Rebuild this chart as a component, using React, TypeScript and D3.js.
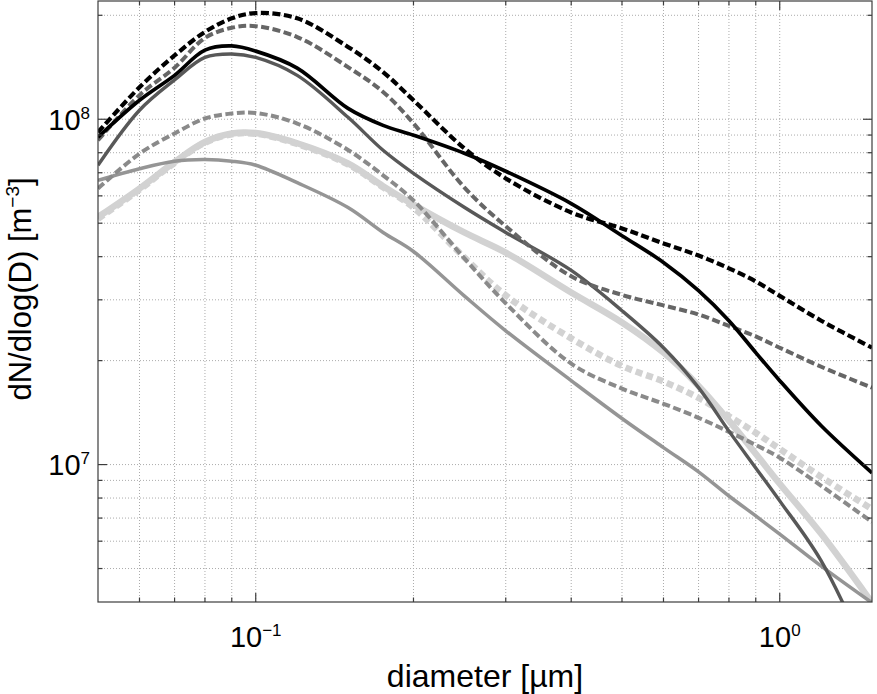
import React from "react";
import * as d3 from "d3";

const W = 877;
const H = 694;

// diameters [µm]
const diameters = [0.05, 0.06, 0.07, 0.08, 0.09, 0.1, 0.12, 0.15, 0.175, 0.2, 0.25, 0.3, 0.4, 0.5, 0.6, 0.7, 0.8, 0.9, 1.0, 1.2, 1.5];

// dN/dlog(D) [m^-3]
const blackDashed = [9.17e7, 1.238e8, 1.53e8, 1.79e8, 1.96e8, 2.03e8, 1.96e8, 1.62e8, 1.37e8, 1.135e8, 8.24e7, 6.74e7, 5.37e7, 4.83e7, 4.37e7, 4.03e7, 3.7e7, 3.39e7, 3.08e7, 2.61e7, 2.18e7];
const darkDashed = [8.69e7, 1.174e8, 1.41e8, 1.72e8, 1.84e8, 1.86e8, 1.73e8, 1.416e8, 1.2e8, 9.73e7, 6.35e7, 4.9e7, 3.51e7, 3.1e7, 2.89e7, 2.72e7, 2.52e7, 2.35e7, 2.18e7, 1.92e7, 1.67e7];
const blackSolid = [8.87e7, 1.135e8, 1.34e8, 1.585e8, 1.63e8, 1.575e8, 1.406e8, 1.075e8, 9.6e7, 8.99e7, 7.97e7, 7.07e7, 5.7e7, 4.6e7, 3.85e7, 3.19e7, 2.61e7, 2.11e7, 1.75e7, 1.295e7, 9.46e6];
const darkSolid = [7.36e7, 1.062e8, 1.3e8, 1.51e8, 1.545e8, 1.51e8, 1.34e8, 1.013e8, 8.13e7, 6.97e7, 5.56e7, 4.7e7, 3.65e7, 2.79e7, 2.18e7, 1.67e7, 1.25e7, 9.78e6, 7.85e6, 5.26e6, 2.6e6];
const mediumDashed = [6.3e7, 7.95e7, 9.1e7, 1.005e8, 1.039e8, 1.043e8, 9.72e7, 8.15e7, 6.88e7, 5.82e7, 3.96e7, 2.93e7, 1.96e7, 1.66e7, 1.5e7, 1.366e7, 1.244e7, 1.14e7, 1.047e7, 8.68e6, 6.82e6];
const mediumSolid = [6.65e7, 7.19e7, 7.56e7, 7.64e7, 7.56e7, 7.36e7, 6.55e7, 5.55e7, 4.7e7, 4.14e7, 3.08e7, 2.44e7, 1.75e7, 1.36e7, 1.12e7, 9.53e6, 8.11e6, 7.1e6, 6.29e6, 5.08e6, 3.98e6];
const lightSolid = [5.21e7, 6.3e7, 7.52e7, 8.59e7, 9.09e7, 9.12e7, 8.52e7, 7.45e7, 6.4e7, 5.66e7, 4.7e7, 4.11e7, 3.15e7, 2.58e7, 2.11e7, 1.69e7, 1.34e7, 1.075e7, 8.8e6, 6.3e6, 3.98e6];
const lightDashed = [5.15e7, 6.25e7, 7.48e7, 8.55e7, 9.05e7, 9.08e7, 8.48e7, 7.4e7, 6.35e7, 5.55e7, 3.98e7, 3.09e7, 2.32e7, 1.93e7, 1.74e7, 1.56e7, 1.38e7, 1.236e7, 1.11e7, 9.21e6, 7.43e6];

// ticks
const xMajor = [0.1, 1];
const xMinor = [0.06, 0.07, 0.08, 0.09, 0.2, 0.3, 0.4, 0.5, 0.6, 0.7, 0.8, 0.9];
const xTickLabels = [
  { v: 0.1, base: "10", sup: "\u22121" },
  { v: 1, base: "10", sup: "0" },
];
const yMajor = [1e7, 1e8];
const yMinor = [5e6, 6e6, 7e6, 8e6, 9e6, 2e7, 3e7, 4e7, 5e7, 6e7, 7e7, 8e7, 9e7, 2e8];
const yTickLabels = [
  { v: 1e7, base: "10", sup: "7" },
  { v: 1e8, base: "10", sup: "8" },
];

const seriesList = [
  { values: lightSolid, color: "#d2d2d2", width: 6.5, dash: null },
  { values: lightDashed, color: "#d2d2d2", width: 6.5, dash: "7,4" },
  { values: mediumSolid, color: "#959595", width: 3.5, dash: null },
  { values: mediumDashed, color: "#8a8a8a", width: 4, dash: "8,3.5" },
  { values: darkSolid, color: "#585858", width: 3.4, dash: null },
  { values: darkDashed, color: "#666666", width: 4, dash: "8,3.5" },
  { values: blackSolid, color: "#000000", width: 3.7, dash: null },
  { values: blackDashed, color: "#000000", width: 4.2, dash: "8,3.5" },
];

const FONT = "'Liberation Sans', Arial, Helvetica, sans-serif";

export default function App() {
  const L = 98, R = 872, T = 1, B = 602;
  const x = d3.scaleLog().domain([0.05, 1.5]).range([L, R]);
  const y = d3.scaleLog().domain([4e6, 2.2e8]).range([B, T]);

  const line = d3
    .line<[number, number]>()
    .x((d) => x(d[0]))
    .y((d) => y(d[1]))
    .curve(d3.curveCatmullRom.alpha(0.5));

  const gridColor = "#ababab";
  const axisColor = "#3c3c3c";
  const majLen = 9;
  const minLen = 4.5;

  return (
    <svg
      width={W}
      height={H}
      viewBox={`0 0 ${W} ${H}`}
      style={{ position: "absolute", left: 0, top: 0, background: "#fff" }}
    >
      <defs>
        <clipPath id="plotclip">
          <rect x={L} y={T} width={R - L} height={B - T} />
        </clipPath>
      </defs>
      <rect x={0} y={0} width={W} height={H} fill="#fff" />

      {/* grid */}
      <g stroke={gridColor} strokeWidth={1} strokeDasharray="1,2">
        {[...xMinor, ...xMajor].map((v) => (
          <line key={"gx" + v} x1={x(v)} x2={x(v)} y1={T} y2={B} />
        ))}
        {[...yMinor, ...yMajor].map((v) => (
          <line key={"gy" + v} x1={L} x2={R} y1={y(v)} y2={y(v)} />
        ))}
      </g>

      {/* series */}
      <g clipPath="url(#plotclip)" fill="none">
        {seriesList.map((s, i) => (
          <path
            key={i}
            d={line(diameters.map((d, j) => [d, s.values[j]] as [number, number])) || ""}
            stroke={s.color}
            strokeWidth={s.width}
            strokeDasharray={s.dash || undefined}
            strokeLinejoin="round"
          />
        ))}
      </g>

      {/* box */}
      <rect x={L} y={T} width={R - L} height={B - T} fill="none" stroke={axisColor} strokeWidth={1.2} />

      {/* ticks */}
      <g stroke={axisColor} strokeWidth={1.2}>
        {xMajor.concat(xMinor).map((v) => {
          const len = xMajor.includes(v) ? majLen : minLen;
          return (
            <g key={"tx" + v}>
              <line x1={x(v)} x2={x(v)} y1={B} y2={B - len} />
              <line x1={x(v)} x2={x(v)} y1={T} y2={T + len} />
            </g>
          );
        })}
        {yMajor.concat(yMinor).map((v) => {
          const len = yMajor.includes(v) ? majLen : minLen;
          return (
            <g key={"ty" + v}>
              <line x1={L} x2={L + len} y1={y(v)} y2={y(v)} />
              <line x1={R} x2={R - len} y1={y(v)} y2={y(v)} />
            </g>
          );
        })}
      </g>

      {/* tick labels */}
      <g fontFamily={FONT} fill="#000">
        {xTickLabels.map((t) => (
          <text key={"xl" + t.v} x={x(t.v)} y={647} textAnchor="middle" fontSize={29}>
            {t.base}
            <tspan fontSize={17} dy={-11}>{t.sup}</tspan>
          </text>
        ))}
        {yTickLabels.map((t) => (
          <text key={"yl" + t.v} x={90} y={y(t.v) + 10.5} textAnchor="end" fontSize={29}>
            {t.base}
            <tspan fontSize={17} dy={-11}>{t.sup}</tspan>
          </text>
        ))}
      </g>

      {/* axis labels */}
      <text x={(L + R) / 2} y={687} textAnchor="middle" fontFamily={FONT} fontSize={32} fill="#000">
        diameter [µm]
      </text>
      <text
        transform="translate(31,289) rotate(-90)"
        textAnchor="middle"
        fontFamily={FONT}
        fontSize={31}
        fill="#000"
      >
        dN/dlog(D) [m
        <tspan fontSize={19} dy={-12}>{"\u22123"}</tspan>
        <tspan dy={12}>]</tspan>
      </text>
    </svg>
  );
}
